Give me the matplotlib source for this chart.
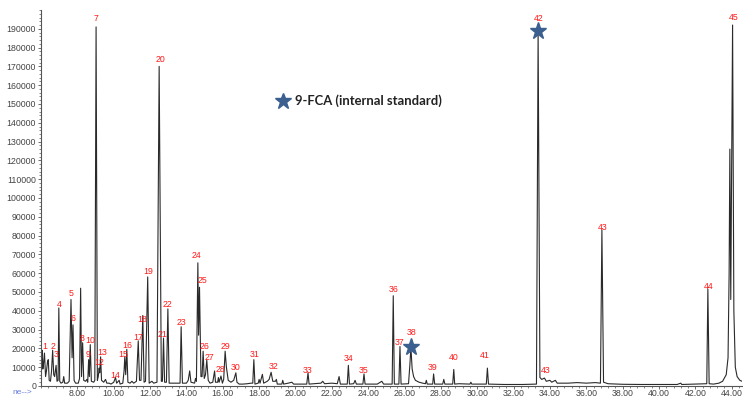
import matplotlib
matplotlib.use("Agg")
import matplotlib.pyplot as plt
from matplotlib.ticker import MultipleLocator, AutoMinorLocator, FormatStrFormatter

# ---- chromatogram trace (retention time [min], abundance) ----
trace_time = [
    6.00, 6.03, 6.06, 6.10, 6.14, 6.19, 6.25, 6.30, 6.36, 6.40, 6.45, 6.52, 6.58, 6.64, 6.70, 6.75,
    6.83, 6.88, 6.94, 6.98, 7.03, 7.10, 7.20, 7.25, 7.30, 7.45, 7.55, 7.65, 7.71, 7.76, 7.82, 7.90,
    8.05, 8.12, 8.18, 8.23, 8.29, 8.35, 8.45, 8.52, 8.57, 8.62, 8.66, 8.71, 8.77, 8.90, 8.96, 9.03,
    9.10, 9.15, 9.20, 9.23, 9.28, 9.33, 9.45, 9.55, 9.62, 9.75, 9.85, 10.00, 10.10, 10.16, 10.30,
    10.35, 10.50, 10.57, 10.61, 10.66, 10.72, 10.78, 10.90, 11.00, 11.10, 11.25, 11.35, 11.42, 11.50,
    11.60, 11.67, 11.75, 11.87, 11.95, 12.10, 12.20, 12.38, 12.50, 12.62, 12.68, 12.74, 12.80, 12.90,
    12.98, 13.05, 13.30, 13.50, 13.65, 13.71, 13.78, 14.00, 14.10, 14.18, 14.25, 14.45, 14.50, 14.55,
    14.63, 14.67, 14.72, 14.80, 14.86, 14.92, 14.98, 15.05, 15.12, 15.20, 15.30, 15.45, 15.55, 15.60,
    15.72, 15.76, 15.80, 15.90, 15.98, 16.05, 16.13, 16.20, 16.30, 16.45, 16.60, 16.72, 16.78, 16.90,
    17.10, 17.35, 17.55, 17.65, 17.71, 17.77, 17.95, 18.00, 18.05, 18.18, 18.25, 18.45, 18.55, 18.66,
    18.75, 18.90, 18.95, 19.00, 19.25, 19.30, 19.35, 19.60, 19.80, 19.90, 20.20, 20.62, 20.69, 20.75,
    21.00, 21.40, 21.50, 21.60, 22.00, 22.30, 22.40, 22.47, 22.85, 22.91, 22.97, 23.20, 23.28, 23.35,
    23.71, 23.77, 23.83, 24.50, 24.75, 24.85, 25.32, 25.38, 25.44, 25.69, 25.75, 25.81, 26.22, 26.30,
    26.35, 26.42, 26.50, 26.60, 26.80, 27.00, 27.15, 27.20, 27.25, 27.55, 27.60, 27.66, 28.10, 28.16,
    28.22, 28.65, 28.71, 28.76, 29.00, 29.60, 29.65, 29.70, 30.50, 30.56, 30.62, 31.50, 32.50, 33.26,
    33.35, 33.45, 33.55, 33.70, 33.80, 34.00, 34.10, 34.30, 34.40, 35.00, 35.50, 36.00, 36.50, 36.78,
    36.86, 36.95, 37.20, 38.00, 39.00, 40.00, 41.00, 41.20, 41.25, 42.63, 42.69, 42.76, 43.00, 43.30,
    43.50, 43.70, 43.80, 43.86, 43.90, 43.95, 44.05, 44.12, 44.20, 44.30, 44.45, 44.57,
]
trace_signal = [
    24000, 16000, 19000, 9000, 12000, 17500, 5000, 8000, 13000, 14000, 3000, 2500, 8000, 19000, 6000, 5000,
    11000, 2500, 3000, 41500, 2500, 1500, 2000, 5000, 1500, 1500, 2500, 46000, 15000, 32500, 3000, 1500,
    1500, 4000, 52000, 5000, 23000, 3000, 2500, 3500, 2000, 14000, 5000, 22000, 2500, 2000, 3000, 191000,
    3000, 5000, 9500, 7000, 15500, 3000, 2000, 3500, 1500, 1500, 1000, 2000, 4500, 1500, 3000,
    1000, 1500, 8000, 15500, 6000, 19500, 2000, 1500, 2500, 1500, 2500, 24000, 3000, 3000,
    37500, 2000, 2500, 58000, 1500, 2500, 1500, 2000, 170000, 2500, 2500, 25500, 2000, 2000,
    41000, 1500, 1500, 1500, 1500, 31500, 1500, 1500, 3000, 8000, 2000, 1500, 4000, 2500,
    65500, 27000, 52500, 5000, 5000, 18500, 4000, 6000, 13800, 3000, 1500, 2000, 8000, 2000,
    2000, 4500, 2000, 5300, 1500, 3500, 18500, 10000, 3000, 2000, 3000, 7000, 2000, 1000,
    1000, 1200, 1500, 1500, 14000, 1000, 1500, 3500, 1500, 6200, 1500, 2500, 3500, 7300,
    2500, 2500, 3500, 1000, 1000, 3000, 1000, 1500, 2000, 1000, 1000, 1000, 7000, 1000,
    1200, 1500, 2500, 1200, 1500, 1200, 5000, 1000, 1000, 11000, 1000, 1200, 3000, 1000,
    1000, 6400, 1000, 1000, 2500, 1000, 1000, 48000, 1000, 1000, 21000, 1000, 1200, 12000,
    20700, 9000, 5000, 3000, 2000, 1500, 1200, 3000, 1000, 1000, 6400, 1000, 1000, 3500,
    1000, 1000, 8800, 1000, 1200, 1000, 2000, 1000, 1000, 9500, 1000, 800, 800, 1000,
    188000, 4500, 3500, 4200, 2500, 3000, 2000, 3000, 1500, 1500, 1800, 1500, 1800, 1500,
    83000, 2000, 1200, 900, 800, 800, 800, 1500, 800, 1200, 51500, 1200, 1000, 1500,
    2500, 6000, 15000, 60000, 126000, 46000, 192000, 40000, 10000, 5000, 3000, 2500,
]

# ---- peak labels (text, label anchor time, label anchor abundance) ----
peak_labels = ["1", "2", "3", "4", "5", "6", "8", "9", "10", "7", "12", "13", "14", "15", "16",
               "17", "18", "19", "20", "21", "22", "23", "24", "25", "26", "27", "28", "29", "30",
               "31", "32", "33", "34", "35", "36", "37", "38", "39", "40", "41", "42", "43", "43",
               "44", "45"]
label_time = [6.19, 6.64, 6.83, 6.98, 7.65, 7.78, 8.27, 8.58, 8.73, 9.01, 9.19, 9.37, 10.10, 10.50, 10.77,
              11.33, 11.55, 11.88, 12.58, 12.70, 12.98, 13.71, 14.53, 14.90, 15.01, 15.25, 15.85, 16.13, 16.73,
              17.76, 18.78, 20.69, 22.90, 23.75, 25.38, 25.75, 26.41, 27.56, 28.70, 30.43, 33.40, 33.77, 36.88,
              42.72, 44.12]
label_value = [21000, 21000, 16500, 43500, 49000, 36000, 25000, 17000, 24000, 195500, 12400, 17700, 5800, 16800, 21600,
               25800, 35600, 60700, 173700, 27600, 43400, 33800, 69400, 55900, 21200, 15000, 9000, 21200, 9700,
               16800, 10600, 8300, 14500, 8000, 51500, 23200, 28500, 9700, 15200, 16100, 195500, 8300, 84500,
               53000, 196000]

# internal standard (9-FCA) peaks
istd_time = [26.35, 33.35]
istd_value = [20700, 189000]

x_ticks_major = 2.0
y_ticks_major = 10000

fig = plt.figure(figsize=(7.43, 3.98), dpi=100)
ax = fig.add_axes([0.0552, 0.0302, 0.9435, 0.9447])

ax.plot(trace_time, trace_signal, color="#2a2a2a", lw=0.8, solid_joinstyle="round")

for txt, t, v in zip(peak_labels, label_time, label_value):
    ax.text(t, v, txt, color="#ff1a1a", fontsize=6.3, ha="center", va="center",
            family="Liberation Sans")

ax.plot(istd_time, istd_value, ls="none", marker="*", ms=12.5, color="#3b5f8f",
        markeredgecolor="#3b5f8f")

# legend-like annotation
ax.plot([19.31], [151800], ls="none", marker="*", ms=12, color="#3b5f8f")
ax.text(19.95, 151800, "9-FCA (internal standard)", fontsize=9.4, fontweight="bold",
        color="#222222", va="center", ha="left", family=["Lato", "DejaVu Sans"])

ax.set_xlim(6.0, 44.57)
ax.set_ylim(0, 200000)

ax.xaxis.set_major_locator(MultipleLocator(x_ticks_major))
ax.xaxis.set_minor_locator(AutoMinorLocator(5))
ax.yaxis.set_major_locator(MultipleLocator(y_ticks_major))
ax.yaxis.set_minor_locator(AutoMinorLocator(5))
ax.xaxis.set_major_formatter(FormatStrFormatter("%.2f"))
ax.yaxis.set_major_formatter(FormatStrFormatter("%d"))

xt = [t for t in ax.get_xticks() if t >= 8]
ax.set_xticks(xt)
ax.set_xlim(6.0, 44.57)
ax.set_yticks([v for v in ax.get_yticks() if v <= 190000])
ax.set_ylim(0, 200000)

for s in ["top", "right"]:
    ax.spines[s].set_visible(False)
for s in ["left", "bottom"]:
    ax.spines[s].set_color("#555555")
    ax.spines[s].set_linewidth(0.8)

ax.tick_params(axis="y", which="major", length=2.5, width=0.6, color="#555555",
               labelsize=6.3, labelcolor="#444444", pad=1)
ax.tick_params(axis="x", which="major", length=1.8, width=0.6, color="#555555",
               labelsize=6.3, labelcolor="#444444", pad=0.3)
ax.tick_params(axis="both", which="minor", length=1.3, width=0.5, color="#555555")
for lab in ax.get_xticklabels() + ax.get_yticklabels():
    lab.set_family("Liberation Sans")

fig.text(12 / 743, 1 - 393 / 398, "ne-->", color="#6a7fd8", fontsize=6, ha="left", va="center",
         family="Liberation Sans")

fig.savefig("out.png", dpi=100)
